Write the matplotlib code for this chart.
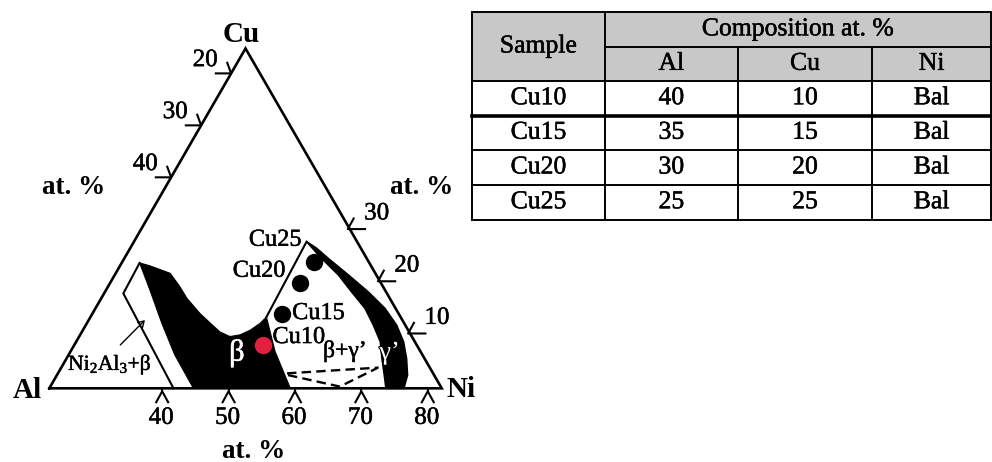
import numpy as np
import matplotlib
matplotlib.use("Agg")
import matplotlib.pyplot as plt
from matplotlib.patches import Polygon, Rectangle, FancyArrowPatch
import matplotlib.patheffects as pe

plt.rcParams['font.family'] = ['Liberation Serif', 'DejaVu Serif']
plt.rcParams['mathtext.fontset'] = 'custom'
plt.rcParams['mathtext.rm'] = 'Liberation Serif'
plt.rcParams['mathtext.it'] = 'Liberation Serif:italic'
plt.rcParams['mathtext.bf'] = 'Liberation Serif:bold'

# ---------------- table data ----------------
samples = ["Cu10", "Cu15", "Cu20", "Cu25"]
al_at = ["40", "35", "30", "25"]
cu_at = ["10", "15", "20", "25"]
ni_at = ["Bal", "Bal", "Bal", "Bal"]
comp_cols = ["Al", "Cu", "Ni"]

# ---------------- diagram data (at.%) ----------------
ni_span = [23.0, 82.1]            # Ni range of the partial ternary base
bottom_ticks = [40, 50, 60, 70, 80]   # Ni at.%
left_ticks = [20, 30, 40]             # Al at.%
left_span = [80.6, 15.2]              # Al at bottom / top of left edge
right_ticks = [10, 20, 30]            # Cu at.%
right_span = [-0.5, 64.6]             # Cu at bottom / top of right edge

point_ni = [51.5, 51.5, 51.6, 51.8]   # sample markers (as drawn)
point_cu = [7.5, 13.0, 18.3, 22.0]

beta_ni = [25.7, 27.5, 31.2, 33.8, 35.9, 39.2, 41.2, 43.8, 45.7, 47.1, 48.2,
           49.1, 49.5, 53.8, 59.3, 44.7, 39.0, 34.3, 29.6]
beta_cu = [21.8, 21.3, 20.0, 17.7, 15.65, 13.0, 11.6, 9.8, 9.0, 9.3, 10.1,
           11.3, 12.4, 6.4, 0.0, 0.0, 5.8, 11.3, 17.1]

gamma_ni = [49.0, 51.0, 53.7, 58.2, 62.6, 66.6, 69.8, 72.3, 74.2, 75.8, 76.4,
            73.7, 72.3, 70.5, 68.8, 66.3, 63.6, 60.1, 56.7, 52.7]
gamma_cu = [25.5, 24.4, 22.6, 19.7, 16.8, 13.9, 11.0, 8.1, 5.2, 2.3, 0.0,
            0.0, 2.3, 5.2, 8.1, 11.0, 13.9, 16.8, 19.7, 22.6]

band_ni = [41.7, 25.9, 25.7]     # Ni2Al3+beta field outline
band_cu = [0.0, 16.5, 21.8]
wedge_ni = [49.5, 49.0]          # beta+gamma' field left boundary
wedge_cu = [12.4, 25.5]
tie1_ni = [57.5, 70.8]
tie1_cu = [2.6, 3.6]
tie2_ni = [57.8, 66.6, 70.6]
tie2_cu = [2.3, 0.3, 3.5]

SQ = np.sqrt(3) / 2
THICK = [pe.withStroke(linewidth=0.35, foreground='black')]
THICK_W = [pe.withStroke(linewidth=0.35, foreground='white')]


def tern(ni, cu):
    ni = np.asarray(ni, float)
    cu = np.asarray(cu, float)
    return ni + cu / 2.0, cu * SQ


fig = plt.figure(figsize=(9.92, 4.62), dpi=100)

# ---------------- ternary diagram ----------------
S = 6.64  # px per at.%
ax = fig.add_axes([0, 0, 1, 1])
ax.set_xlim(ni_span[0] - 49.3 / S, ni_span[0] + (992 - 49.3) / S)
ax.set_ylim(-(462 - 388.3) / S, 388.3 / S)
ax.axis('off')

L = ni_span[1] - ni_span[0]
A = np.array(tern(ni_span[0], 0))
N = np.array(tern(ni_span[1], 0))
C = np.array(tern(ni_span[0], L))

# phase fields
bx, by = tern(beta_ni, beta_cu)
ax.add_patch(Polygon(np.column_stack([bx, by]), closed=True, fc='black',
                     ec='black', lw=0.8, zorder=2))
gx, gy = tern(gamma_ni, gamma_cu)
ax.add_patch(Polygon(np.column_stack([gx, gy]), closed=True, fc='black',
                     ec='black', lw=1.2, zorder=2))
x, y = tern(band_ni, band_cu)
ax.plot(x, y, color='black', lw=1.5, zorder=3, solid_joinstyle='miter')
x, y = tern(wedge_ni, wedge_cu)
ax.plot(x, y, color='black', lw=1.5, zorder=3)
for tn, tc in [(tie1_ni, tie1_cu), (tie2_ni, tie2_cu)]:
    x, y = tern(tn, tc)
    ax.plot(x, y, color='black', lw=1.7, ls=(0, (4, 2.2)), zorder=3)

# triangle
tri = np.array([A, N, C, A])
ax.plot(tri[:, 0], tri[:, 1], color='black', lw=1.9, zorder=4,
        solid_joinstyle='miter')

# bottom ticks (Ni)
for v in bottom_ticks:
    tx, ty = tern(v, 0)
    ax.plot([tx, tx], [0, -0.45], color='black', lw=1.5, zorder=4)
    ax.plot([tx - 0.9, tx, tx + 0.9], [-2.1, -0.45, -2.1], color='black',
            lw=1.5, zorder=4)
    ax.text(tx - 0.15, -4.45, f"{v}", ha='center', va='center', fontsize=18,
            path_effects=THICK)

# left ticks (Al)
a110 = np.deg2rad(110)
for v in left_ticks:
    f = (left_span[0] - v) / (left_span[0] - left_span[1])
    P = A + f * (C - A)
    ax.plot([P[0] - 2.3, P[0], P[0] + 1.7 * np.cos(a110)],
            [P[1], P[1], P[1] + 1.7 * np.sin(a110)], color='black', lw=1.5,
            zorder=4)
    ax.text(P[0] - 3.9, P[1] + 2.0, f"{v}", ha='center', va='center',
            fontsize=18, path_effects=THICK)

# right ticks (Cu)
a70 = np.deg2rad(70)
for v in right_ticks:
    f = (v - right_span[0]) / (right_span[1] - right_span[0])
    P = N + f * (C - N)
    ax.plot([P[0] + 2.3, P[0] - 0.3, P[0] + 1.7 * np.cos(a70)],
            [P[1], P[1], P[1] + 1.7 * np.sin(a70)], color='black', lw=1.5,
            zorder=4)
    ax.text(P[0] + 4.05, P[1] + 2.35, f"{v}", ha='center', va='center',
            fontsize=18, path_effects=THICK)

# vertex labels
ax.annotate("Cu", xy=C, xytext=(-3, 4.5), textcoords='offset points',
            ha='center', va='baseline', fontsize=21, fontweight='bold')
ax.annotate("Al", xy=A, xytext=(-5.5, -7.2), textcoords='offset points',
            ha='right', va='baseline', fontsize=21, fontweight='bold')
ax.annotate("Ni", xy=N, xytext=(3.2, -6.0), textcoords='offset points',
            ha='left', va='baseline', fontsize=21, fontweight='bold')

# axis titles
for fx, fy in [(74 / 992, 1 - 188 / 462), (422 / 992, 1 - 188 / 462),
               (254 / 992, 1 - 451 / 462)]:
    fig.text(fx, fy, "at. %", ha='center', va='center', fontsize=19.5,
             fontweight='bold')

# sample markers
px, py = tern(point_ni, point_cu)
colors = ['#e3203f', 'black', 'black', 'black']
offsets = [(6.5, 5.5), (7.5, 0.0), (-10.5, 8.5), (-8.5, 15.5)]
aligns = ['left', 'left', 'right', 'right']
for i, name in enumerate(samples):
    ax.plot(px[i], py[i], 'o', ms=11.5, color=colors[i], mec=colors[i],
            zorder=6)
    ax.annotate(name, xy=(px[i], py[i]), xytext=offsets[i],
                textcoords='offset points', ha=aligns[i], va='center',
                fontsize=17.5, zorder=7, path_effects=THICK)

# phase labels
x, y = tern(48.2, 6.1)
ax.text(x, y, "β", color='white', ha='center', va='center', fontsize=22,
        zorder=7, path_effects=THICK_W)
x, y = tern(64.3, 6.4)
ax.text(x, y, "β+γ’", color='black', ha='center', va='center', fontsize=17,
        zorder=7, path_effects=THICK)
x, y = tern(71.2, 6.1)
ax.text(x, y, "γ’", color='white', ha='center', va='center', fontsize=19,
        zorder=7, path_effects=[pe.withStroke(linewidth=1.5, foreground='black')])
x, y = tern(30.1, 4.05)
ax.text(x, y, r"Ni$_{2}$Al$_{3}$+β", color='black', ha='center', va='center',
        fontsize=15.5, zorder=7, path_effects=THICK)
s0 = tern(29.8, 7.2)
s1 = tern(31.6, 12.2)
ax.add_patch(FancyArrowPatch(s0, s1, arrowstyle='->,head_length=4,head_width=2.5',
                             color='black', lw=1.0, zorder=7))

# ---------------- table ----------------
tax = fig.add_axes([0, 0, 1, 1])
tax.set_xlim(0, 992)
tax.set_ylim(462, 0)
tax.axis('off')
tax.patch.set_alpha(0)

col_x = [472, 605, 737.7, 872.3, 991]
row_y = [12, 46.7, 81, 115.5, 150, 185, 219.5]

tax.add_patch(Rectangle((col_x[0], row_y[0]), col_x[-1] - col_x[0],
                        row_y[2] - row_y[0], fc='#c8c8c8', ec='none'))
lw_t = 1.4
tax.add_patch(Rectangle((col_x[0], row_y[0]), col_x[-1] - col_x[0],
                        row_y[-1] - row_y[0], fc='none', ec='black', lw=lw_t))
tax.plot([col_x[1], col_x[-1]], [row_y[1], row_y[1]], color='black', lw=lw_t)
for k in range(2, len(row_y) - 1):
    tax.plot([col_x[0], col_x[-1]], [row_y[k], row_y[k]], color='black',
             lw=2.6 if k == 3 else lw_t)
tax.plot([col_x[1], col_x[1]], [row_y[0], row_y[-1]], color='black', lw=lw_t)
for k in (2, 3):
    tax.plot([col_x[k], col_x[k]], [row_y[1], row_y[-1]], color='black',
             lw=lw_t)

fs_t = 18.5
tax.text((col_x[0] + col_x[1]) / 2, (row_y[0] + row_y[2]) / 2, "Sample",
         ha='center', va='center', fontsize=fs_t, path_effects=THICK)
tax.text((col_x[1] + col_x[-1]) / 2, (row_y[0] + row_y[1]) / 2,
         "Composition at. %", ha='center', va='center', fontsize=fs_t,
         path_effects=THICK)
for j, name in enumerate(comp_cols):
    tax.text((col_x[j + 1] + col_x[j + 2]) / 2, (row_y[1] + row_y[2]) / 2,
             name, ha='center', va='center', fontsize=fs_t, path_effects=THICK)
for i in range(len(samples)):
    yc = (row_y[i + 2] + row_y[i + 3]) / 2
    for j, val in enumerate([samples[i], al_at[i], cu_at[i], ni_at[i]]):
        tax.text((col_x[j] + col_x[j + 1]) / 2, yc, val, ha='center',
                 va='center', fontsize=fs_t, path_effects=THICK)

fig.savefig("out.png", dpi=100)
